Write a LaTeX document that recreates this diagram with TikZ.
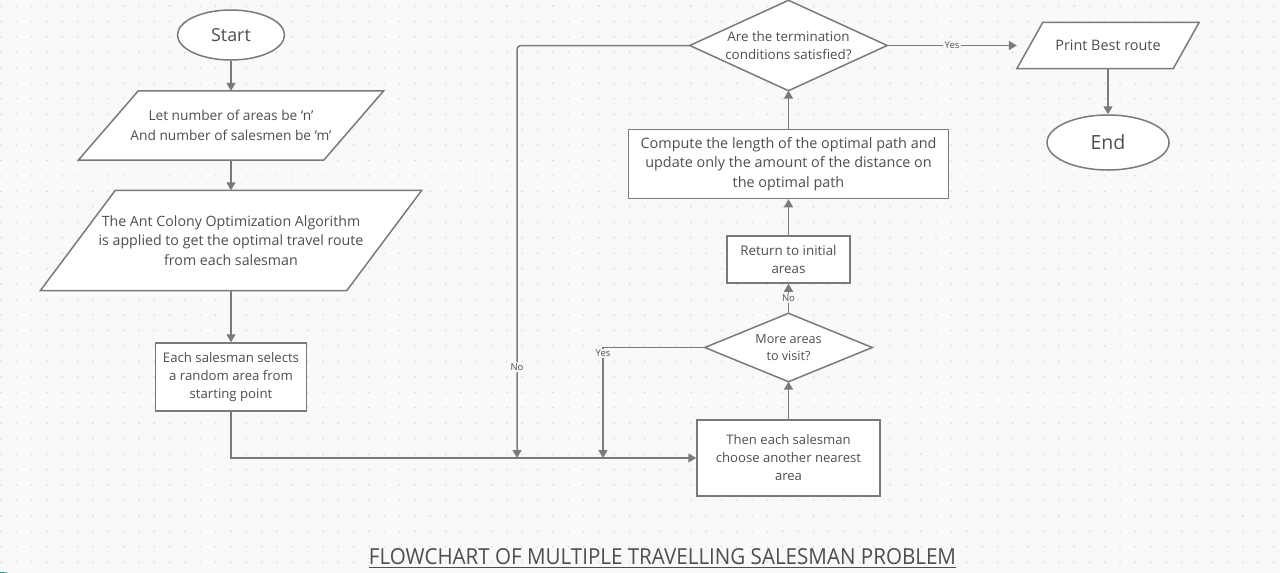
\documentclass[tikz,border=0pt]{standalone}
\usepackage{fontspec}
\setmainfont{Open Sans}
\newfontfamily\titlefont{Open Sans}
\usetikzlibrary{arrows.meta,calc,shapes.geometric}
\definecolor{bgc}{HTML}{F8F9FA}
\definecolor{dotc}{HTML}{D6D9DD}
\definecolor{linec}{HTML}{7A7A7A}
\definecolor{txtc}{HTML}{4E4E4E}
\definecolor{accent}{HTML}{1E9A78}
\pgfdeclarelayer{grid}
\pgfdeclarelayer{background}
\pgfsetlayers{grid,background,main}
\begin{document}
\begin{tikzpicture}[x=1pt,y=-1pt,
  conn/.style={draw=linec, line width=1.5pt},
  arr/.style={conn, -{Triangle[length=8pt,width=9pt]}},
  boxtxt/.style={font=\fontsize{13}{19}\selectfont, text=txtc, align=center, inner sep=0pt},
  procbox/.style={boxtxt, draw=linec, line width=1.5pt, fill=white},
  frame/.style={boxtxt},
  outline/.style={draw=linec, line width=1.5pt, fill=white, line join=miter},
  term/.style={ellipse, draw=linec, line width=1.5pt, fill=white, inner sep=0pt, text=txtc},
  lbl/.style={font=\fontsize{9.5}{11}\selectfont, fill=bgc, inner sep=1.5pt, text=txtc}
]
\useasboundingbox (0,0) rectangle (1280,573);

% background and dot grid
\begin{pgfonlayer}{grid}
  \fill[bgc] (0,0) rectangle (1280,573);
  \foreach \i in {0,...,83} {
    \foreach \j in {0,...,37} {
      \fill[dotc] (1+\i*15.33, 6+\j*15.45) circle (0.9);
    }
  }
  \begin{scope}
    \clip (0,0) rectangle (1280,573);
    \fill[accent] (2,594) circle (22);
  \end{scope}
\end{pgfonlayer}

% terminals
\node[term, minimum width=107pt, minimum height=50pt, font=\fontsize{17.9}{20}\selectfont] (start) at (231,35) {Start};
\node[term, minimum width=122pt, minimum height=55pt, font=\fontsize{19.5}{22}\selectfont] (end) at (1108,142.5) {End};

% input/output (parallelograms)
\node[frame, minimum width=305pt, minimum height=69pt, font=\fontsize{13.7}{19.5}\selectfont] (p1) at (231,125.5)
  {Let number of areas be ‘n’\\And number of salesmen be ‘m’};
\node[frame, minimum width=381pt, minimum height=100pt, font=\fontsize{14.2}{19.5}\selectfont] (p2) at (231,240.5)
  {The Ant Colony Optimization Algorithm\\is applied to get the optimal travel route\\from each salesman};
\node[frame, minimum width=182pt, minimum height=46pt, font=\fontsize{14.4}{19}\selectfont] (print) at (1108,45.5)
  {Print Best route};

% process boxes
\node[procbox, minimum width=151pt, minimum height=68pt, font=\fontsize{13.2}{18}\selectfont] (each) at (231,377)
  {Each salesman selects\\a random area from\\starting point};
\node[procbox, minimum width=183pt, minimum height=76pt, font=\fontsize{13.1}{18}\selectfont] (then) at (788.5,458)
  {Then each salesman\\choose another nearest\\area};
\node[procbox, minimum width=123pt, minimum height=47pt, font=\fontsize{13.4}{18}\selectfont] (ret) at (788.5,259.5)
  {Return to initial\\areas};
\node[procbox, minimum width=320pt, minimum height=69pt, font=\fontsize{14.4}{19.5}\selectfont] (comp) at (788.5,164)
  {Compute the length of the optimal path and\\update only the amount of the distance on\\the optimal path};

% decisions
\node[frame, minimum width=197pt, minimum height=90pt, font=\fontsize{13.4}{18}\selectfont] (d2) at (788.5,45.5)
  {Are the termination\\conditions satisfied?};
\node[frame, minimum width=167pt, minimum height=68pt, font=\fontsize{12.6}{17.5}\selectfont] (d1) at (788.5,347.5)
  {More areas\\to visit?};

% outlines drawn behind the texts
\begin{pgfonlayer}{background}
  \draw[outline] (p1.south west) -- ($(p1.north west)+(60,0)$) -- (p1.north east) -- ($(p1.south east)+(-60,0)$) -- cycle;
  \draw[outline] (p2.south west) -- ($(p2.north west)+(75,0)$) -- (p2.north east) -- ($(p2.south east)+(-75,0)$) -- cycle;
  \draw[outline] (print.south west) -- ($(print.north west)+(26,0)$) -- (print.north east) -- ($(print.south east)+(-26,0)$) -- cycle;
  \draw[outline] (d2.west) -- (d2.north) -- (d2.east) -- (d2.south) -- cycle;
  \draw[outline] (d1.west) -- (d1.north) -- (d1.east) -- (d1.south) -- cycle;
\end{pgfonlayer}

% junctions on the main line
\coordinate (j1) at (517,458);
\coordinate (j2) at (603,458);

% connectors
\draw[arr] (start.south) -- (p1.north);
\draw[arr] (p1.south) -- (p2.north);
\draw[arr] (p2.south) -- (each.north);
\draw[arr] (each.south) |- (then.west);
\draw[arr] (then.north) -- (d1.south);
\draw[arr] (d1.north) -- node[lbl] {No} (ret.south);
\draw[arr] (ret.north) -- (comp.south);
\draw[arr] (comp.north) -- (d2.south);
\draw[arr] (d2.east) -- node[lbl] {Yes} (print.west);
\draw[arr] (print.south) -- (end.north);
\draw[arr, rounded corners=4pt] (d2.west) -| node[lbl, pos=0.89] {No} (j1);
\draw[arr] (d1.west) -| node[lbl, pos=0.5, yshift=-6pt] {Yes} (j2);

% title
\node[text=txtc, inner sep=0pt] (title) at (662.5,557)
  {\resizebox{587pt}{16pt}{\titlefont FLOWCHART OF MULTIPLE TRAVELLING SALESMAN PROBLEM}};
\draw[txtc, line width=1pt] ($(title.south west)+(0,2.5)$) -- ($(title.south east)+(0,2.5)$);
\end{tikzpicture}
\end{document}
